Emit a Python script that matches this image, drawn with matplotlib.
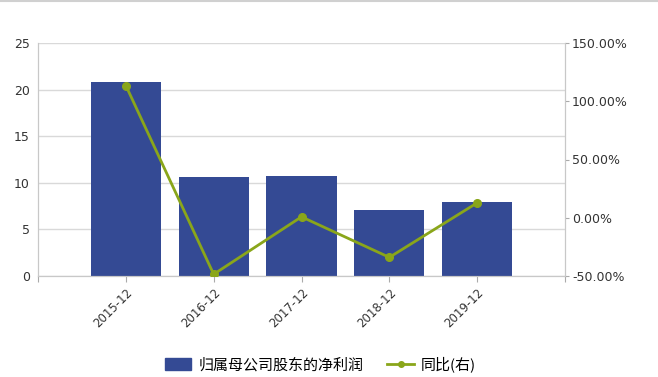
import matplotlib
matplotlib.use("Agg")
import matplotlib.pyplot as plt
from matplotlib.lines import Line2D
from matplotlib.patches import Patch
from matplotlib.ticker import FuncFormatter

plt.rcParams['font.family'] = ['DejaVu Sans', 'Noto Sans CJK SC']

# data
periods = ["2015-12", "2016-12", "2017-12", "2018-12", "2019-12"]
net_profit = [20.8, 10.6, 10.7, 7.05, 7.95]
yoy_pct = [113.5, -48.5, 0.8, -34.0, 12.8]

bar_color = "#344a94"
line_color = "#8aa61a"
grid_color = "#d9d9d9"
text_color = "#333333"

fig = plt.figure(figsize=(6.58, 3.77), dpi=100)
ax = fig.add_axes([38/658, 1 - 276/377, (565 - 38)/658, (276 - 43)/377])
ax2 = ax.twinx()

x = list(range(1, len(periods) + 1))
ax.bar(x, net_profit, width=0.8, color=bar_color, zorder=2)
ax.set_xlim(0, 6)
ax.set_ylim(0, 25)
ax.set_yticks([0, 5, 10, 15, 20, 25])
ax.set_xticks([0] + x + [6])
ax.set_xticklabels([""] + periods + [""], rotation=45, ha="right",
                   rotation_mode="anchor", fontsize=8.5, color=text_color)
ax.tick_params(axis="y", length=0, labelsize=9, colors=text_color, pad=6)
ax.tick_params(axis="x", length=4, color="#aaaaaa", pad=3)
ax.grid(True, axis="y", color=grid_color, lw=1, zorder=0)
ax.set_axisbelow(True)

ax2.plot(x, yoy_pct, "-o", color=line_color, lw=2, ms=5.5, zorder=3)
ax2.set_ylim(-50, 150)
ax2.set_yticks([-50, 0, 50, 100, 150])
ax2.yaxis.set_major_formatter(FuncFormatter(lambda v, p: f"{v:.2f}%"))
ax2.tick_params(axis="y", length=3, labelsize=9, colors=text_color, pad=2)
ax2.tick_params(axis="y", color="#aaaaaa")

for a in (ax, ax2):
    for s in a.spines.values():
        s.set_color("#c8c8c8")
    a.spines["top"].set_visible(False)

# thin grey rule along the top edge of the image
fig.add_artist(Line2D([0, 1], [0.997, 0.997], color="#d0d0d0", lw=1.5))

handles = [Patch(color=bar_color, label="归属母公司股东的净利润"),
           Line2D([], [], color=line_color, marker="o", ms=4, lw=2, label="同比(右)")]
fig.legend(handles=handles, loc="center", bbox_to_anchor=(0.487, 0.033), ncol=2,
           frameon=False, handlelength=1.75, handleheight=0.85, handletextpad=0.5,
           columnspacing=1.6,
           prop={"family": ["Noto Sans CJK SC", "DejaVu Sans"], "size": 10.8})

fig.savefig("out.png", dpi=100)
